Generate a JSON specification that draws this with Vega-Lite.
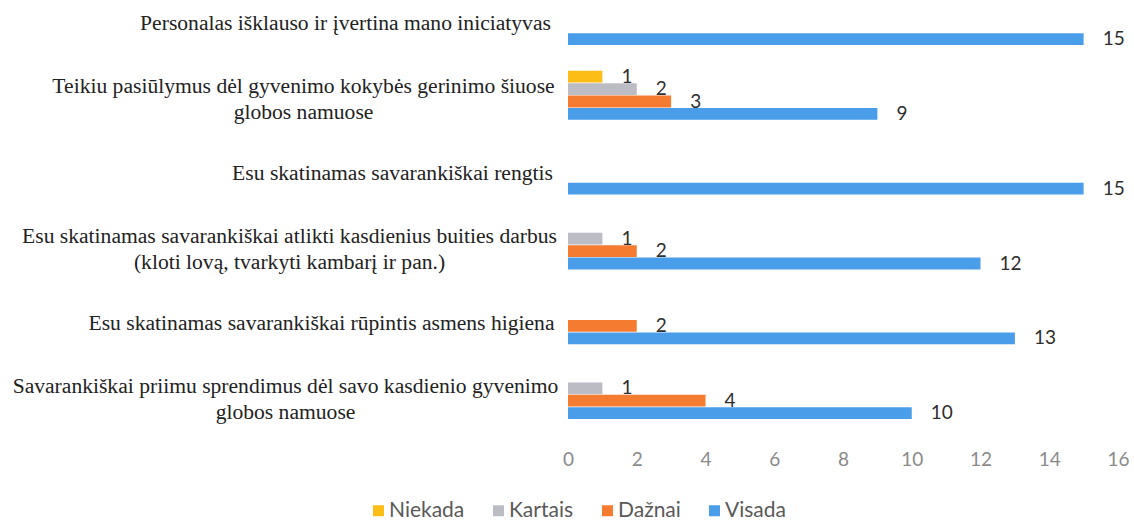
{
  "$schema": "https://vega.github.io/schema/vega-lite/v6.json",
  "width": 550,
  "height": 423,
  "autosize": {"type": "none"},
  "padding": {"left": 568, "top": -4, "right": 16, "bottom": 105},
  "background": "white",
  "config": {"view": {"stroke": null}},
  "data": {
    "values": [
      {"item": "Personalas išklauso ir įvertina mano iniciatyvas", "response": "Visada", "count": 15},
      {"item": "Teikiu pasiūlymus dėl gyvenimo kokybės gerinimo šiuose\nglobos namuose", "response": "Niekada", "count": 1},
      {"item": "Teikiu pasiūlymus dėl gyvenimo kokybės gerinimo šiuose\nglobos namuose", "response": "Kartais", "count": 2},
      {"item": "Teikiu pasiūlymus dėl gyvenimo kokybės gerinimo šiuose\nglobos namuose", "response": "Dažnai", "count": 3},
      {"item": "Teikiu pasiūlymus dėl gyvenimo kokybės gerinimo šiuose\nglobos namuose", "response": "Visada", "count": 9},
      {"item": "Esu skatinamas savarankiškai rengtis", "response": "Visada", "count": 15},
      {"item": "Esu skatinamas savarankiškai atlikti kasdienius buities darbus\n(kloti lovą, tvarkyti kambarį ir pan.)", "response": "Kartais", "count": 1},
      {"item": "Esu skatinamas savarankiškai atlikti kasdienius buities darbus\n(kloti lovą, tvarkyti kambarį ir pan.)", "response": "Dažnai", "count": 2},
      {"item": "Esu skatinamas savarankiškai atlikti kasdienius buities darbus\n(kloti lovą, tvarkyti kambarį ir pan.)", "response": "Visada", "count": 12},
      {"item": "Esu skatinamas savarankiškai rūpintis asmens higiena", "response": "Dažnai", "count": 2},
      {"item": "Esu skatinamas savarankiškai rūpintis asmens higiena", "response": "Visada", "count": 13},
      {"item": "Savarankiškai priimu sprendimus dėl savo kasdienio gyvenimo\nglobos namuose", "response": "Kartais", "count": 1},
      {"item": "Savarankiškai priimu sprendimus dėl savo kasdienio gyvenimo\nglobos namuose", "response": "Dažnai", "count": 4},
      {"item": "Savarankiškai priimu sprendimus dėl savo kasdienio gyvenimo\nglobos namuose", "response": "Visada", "count": 10}
    ]
  },
  "encoding": {
    "y": {
      "field": "item",
      "type": "nominal",
      "sort": null,
      "scale": {"paddingInner": 0.345, "paddingOuter": 0},
      "axis": {
        "title": null,
        "domain": false,
        "ticks": false,
        "labelAlign": "center",
        "labelBaseline": "middle",
        "labelFont": "Liberation Serif",
        "labelFontSize": 21.6,
        "labelColor": "#222222",
        "labelLineHeight": 26,
        "labelLimit": 800,
        "labelExpr": "split(datum.label, '\\n')",
        "labelOffset": {
          "condition": [
            {"test": "datum.value == 'Personalas išklauso ir įvertina mano iniciatyvas'", "value": 4},
            {"test": "datum.value == 'Esu skatinamas savarankiškai rengtis'", "value": 4},
            {"test": "datum.value == 'Esu skatinamas savarankiškai rūpintis asmens higiena'", "value": 4}
          ],
          "value": -8
        },
        "labelPadding": {
          "condition": [
            {"test": "datum.value == 'Personalas išklauso ir įvertina mano iniciatyvas'", "value": 223},
            {"test": "datum.value == 'Teikiu pasiūlymus dėl gyvenimo kokybės gerinimo šiuose\\nglobos namuose'", "value": 265},
            {"test": "datum.value == 'Esu skatinamas savarankiškai rengtis'", "value": 176},
            {"test": "datum.value == 'Esu skatinamas savarankiškai atlikti kasdienius buities darbus\\n(kloti lovą, tvarkyti kambarį ir pan.)'", "value": 279},
            {"test": "datum.value == 'Esu skatinamas savarankiškai rūpintis asmens higiena'", "value": 247}
          ],
          "value": 283
        }
      }
    },
    "yOffset": {
      "field": "response",
      "type": "nominal",
      "sort": ["Niekada", "Kartais", "Dažnai", "Visada"],
      "scale": {"domain": ["Niekada", "Kartais", "Dažnai", "Visada"], "paddingInner": 0.05, "paddingOuter": 0}
    },
    "x": {
      "field": "count",
      "type": "quantitative",
      "scale": {"domain": [0, 16], "nice": false},
      "axis": {
        "title": null,
        "domain": false,
        "ticks": false,
        "grid": false,
        "values": [0, 2, 4, 6, 8, 10, 12, 14, 16],
        "labelFont": "Lato",
        "labelFontSize": 19,
        "labelColor": "#8a8a8a",
        "labelPadding": 31,
        "labelFlush": false
      }
    }
  },
  "layer": [
    {
      "mark": {"type": "bar"},
      "encoding": {
        "color": {
          "field": "response",
          "type": "nominal",
          "scale": {
            "domain": ["Niekada", "Kartais", "Dažnai", "Visada"],
            "range": ["#FDBD17", "#BCBCC4", "#F47B30", "#4A9DE9"]
          },
          "legend": {
            "orient": "none",
            "legendX": -200,
            "legendY": 504,
            "direction": "horizontal",
            "title": null,
            "padding": 0,
            "symbolType": "square",
            "symbolSize": 121,
            "symbolStrokeWidth": 0,
            "labelFont": "Lato",
            "labelFontSize": 21,
            "labelColor": "#595959",
            "labelOffset": 0,
            "columnPadding": 23
          }
        }
      }
    },
    {
      "mark": {"type": "text", "align": "left", "baseline": "middle", "dx": 19, "font": "Lato", "fontSize": 19, "color": "#2e2e2e"},
      "encoding": {"text": {"field": "count", "type": "quantitative"}}
    }
  ]
}
